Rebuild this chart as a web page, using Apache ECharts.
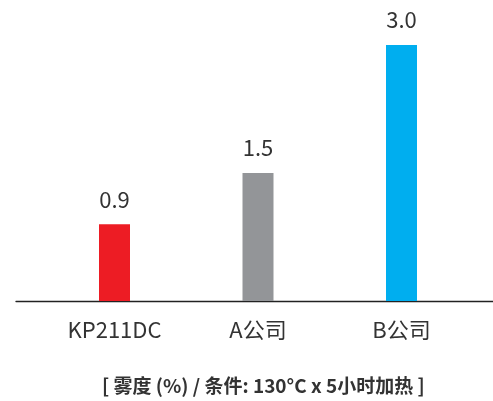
<!DOCTYPE html>
<html>
<head>
<meta charset="utf-8">
<script src="https://cdn.jsdelivr.net/npm/echarts@6/dist/echarts.min.js"></script>
<style>
  html, body { margin: 0; padding: 0; background: #fff; }
  #chart { width: 493px; height: 401px; }
</style>
</head>
<body>
<div id="chart"></div>
<script>
const categories = ['KP211DC', 'A公司', 'B公司']
const hazeValues = [0.9, 1.5, 3.0]
const barColors = ['#ED1C24', '#939598', '#00AEEF']
const footnote = '[ 雾度 (%) / 条件: 130°C x 5小时加热 ]'

const font = 'Noto Sans CJK SC'
const textColor = '#333333'

const chart = echarts.init(document.getElementById('chart'))
chart.setOption({
  animation: false,
  title: {
    text: footnote,
    left: 97,
    top: 371,
    textStyle: {
      fontFamily: font,
      fontSize: 19,
      fontWeight: 'bold',
      color: textColor
    }
  },
  grid: [
    { left: 42.75, right: 19.75, top: 45, bottom: 100 },
    // full-width grid only used to draw the long baseline
    { left: 16, right: 0, top: 45, bottom: 100 }
  ],
  xAxis: [
    {
      type: 'category',
      gridIndex: 0,
      data: categories,
      axisLine: { show: false },
      axisTick: { show: false },
      axisLabel: {
        margin: 18,
        fontFamily: font,
        fontSize: 22,
        color: textColor
      }
    },
    {
      type: 'value',
      gridIndex: 1,
      min: 0,
      max: 1,
      axisLine: { show: true, lineStyle: { color: '#222', width: 1.3 } },
      axisTick: { show: false },
      axisLabel: { show: false },
      splitLine: { show: false }
    }
  ],
  yAxis: [
    { type: 'value', gridIndex: 0, min: 0, max: 3, show: false },
    { type: 'value', gridIndex: 1, min: 0, max: 1, show: false }
  ],
  series: [
    {
      type: 'bar',
      xAxisIndex: 0,
      yAxisIndex: 0,
      barWidth: 31,
      data: hazeValues.map((v, i) => ({
        value: v,
        itemStyle: { color: barColors[i] }
      })),
      label: {
        show: true,
        position: 'top',
        distance: 14,
        fontFamily: font,
        fontSize: 22,
        color: textColor,
        formatter: p => p.value.toFixed(1)
      }
    }
  ]
})
</script>
</body>
</html>
